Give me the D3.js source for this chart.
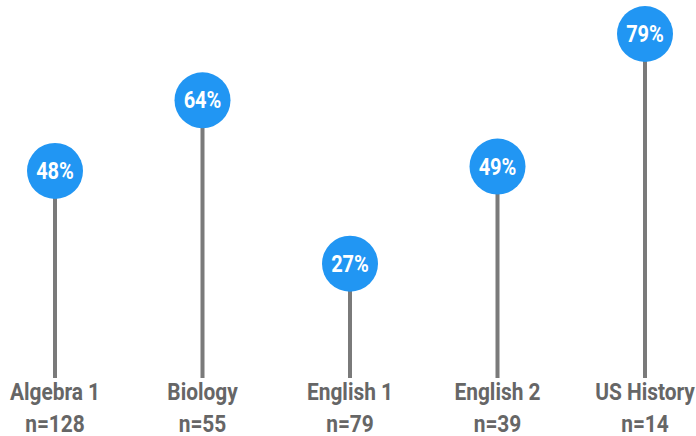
<!DOCTYPE html>
<html>
<head>
<meta charset="utf-8">
<script src="https://cdn.jsdelivr.net/npm/d3@7"></script>
<style>
  body { margin: 0; background: #fff; }
  text { font-family: "Roboto", sans-serif; font-weight: bold; }
</style>
</head>
<body>
<script>
var subjects = ["Algebra 1", "Biology", "English 1", "English 2", "US History"];
var counts = [128, 55, 79, 39, 14];
var percents = [48, 64, 27, 49, 79];

var width = 696, height = 436;
var baseline = 378;
var squeeze = 0.87; // fake a condensed face

var x = d3.scalePoint().domain(subjects).range([55, 645]);
var y = d3.scaleLinear().domain([0, 79]).range([383, 34]);

var svg = d3.select("body").append("svg")
    .attr("width", width)
    .attr("height", height);

var data = subjects.map(function(s, i) {
    return { subject: s, n: counts[i], pct: percents[i] };
});

var g = svg.selectAll("g.lolly")
    .data(data)
    .enter().append("g")
    .attr("class", "lolly");

g.append("line")
    .attr("x1", function(d) { return x(d.subject); })
    .attr("x2", function(d) { return x(d.subject); })
    .attr("y1", baseline)
    .attr("y2", function(d) { return y(d.pct); })
    .style("stroke", "#7a7a7a")
    .style("stroke-width", 4);

g.append("circle")
    .attr("cx", function(d) { return x(d.subject); })
    .attr("cy", function(d) { return y(d.pct); })
    .attr("r", 28)
    .style("fill", "#2196f3");

g.append("text")
    .attr("transform", function(d) {
        return "translate(" + x(d.subject) + "," + (y(d.pct) + 8) + ") scale(" + squeeze + ",1)";
    })
    .style("text-anchor", "middle")
    .style("fill", "#fff")
    .style("font-size", "23px")
    .text(function(d) { return d.pct + "%"; });

g.append("text")
    .attr("transform", function(d) {
        return "translate(" + x(d.subject) + ",400) scale(" + squeeze + ",1)";
    })
    .style("text-anchor", "middle")
    .style("fill", "#666")
    .style("font-size", "24px")
    .text(function(d) { return d.subject; });

g.append("text")
    .attr("transform", function(d) {
        return "translate(" + x(d.subject) + ",432) scale(" + squeeze + ",1)";
    })
    .style("text-anchor", "middle")
    .style("fill", "#666")
    .style("font-size", "24px")
    .text(function(d) { return "n=" + d.n; });
</script>
</body>
</html>
